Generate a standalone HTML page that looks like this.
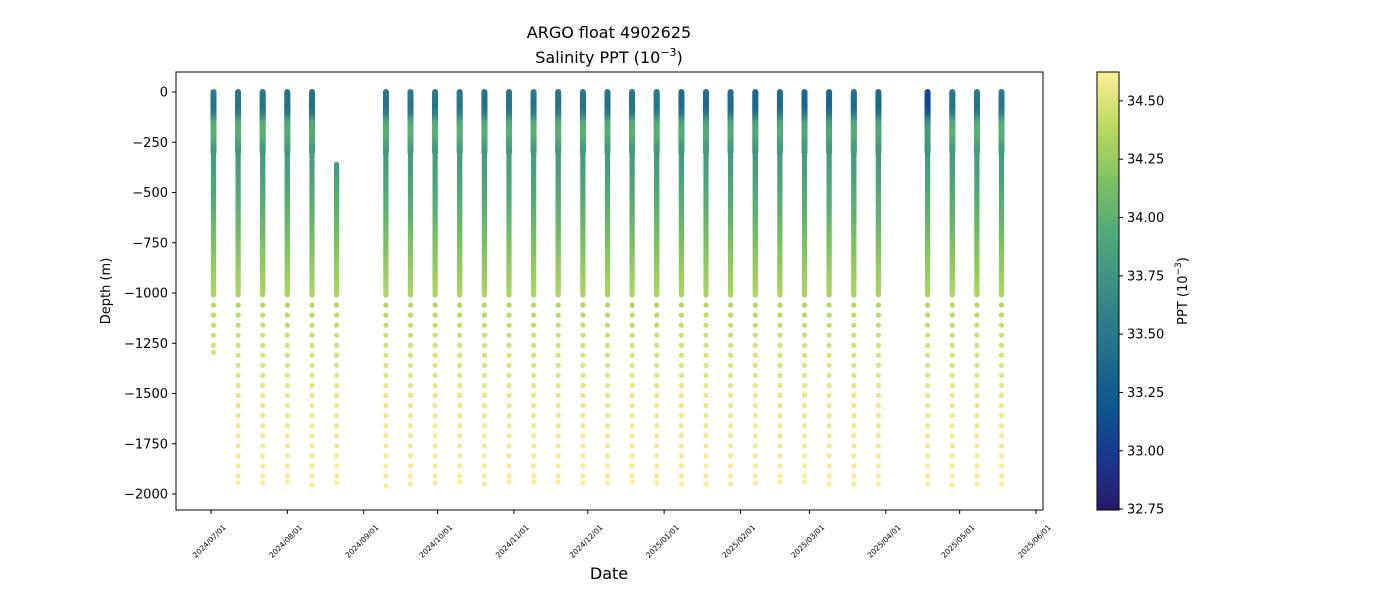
<!DOCTYPE html>
<html><head><meta charset="utf-8"><style>
html,body{margin:0;padding:0;background:#fff;}
svg text{font-family:"DejaVu Sans","Liberation Sans",sans-serif;fill:#000;}
</style></head><body>
<svg id="chart" width="1400" height="600" viewBox="0 0 1400 600" xmlns="http://www.w3.org/2000/svg">
<defs>
<linearGradient id="cbgrad" x1="0" y1="1" x2="0" y2="0">
<stop offset="0" stop-color="#2a186c"/>
<stop offset="0.125" stop-color="#19398f"/>
<stop offset="0.25" stop-color="#0e5990"/>
<stop offset="0.375" stop-color="#23728a"/>
<stop offset="0.5" stop-color="#398c85"/>
<stop offset="0.625" stop-color="#4fa87a"/>
<stop offset="0.75" stop-color="#7dc262"/>
<stop offset="0.875" stop-color="#bcd95f"/>
<stop offset="1" stop-color="#fdef9a"/>
</linearGradient>
</defs>
<text x="609" y="38" font-size="16" text-anchor="middle">ARGO float 4902625</text>
<text x="609" y="63" font-size="16" text-anchor="middle">Salinity PPT (10<tspan dy="-7" font-size="11">−3</tspan><tspan dy="7">)</tspan></text>
<g id="marks"></g>
<rect x="176" y="72" width="867" height="438" fill="none" stroke="#000" stroke-width="1"/>
<g id="xaxis"></g>
<g id="yaxis"></g>
<text x="609" y="579" font-size="16" text-anchor="middle">Date</text>
<text transform="translate(110,291) rotate(-90)" font-size="13" text-anchor="middle">Depth (m)</text>
<rect x="1097" y="72" width="22" height="438" fill="url(#cbgrad)" stroke="#000" stroke-width="1"/>
<g id="cbaxis"></g>
<text transform="translate(1187,291) rotate(-90)" font-size="13" text-anchor="middle">PPT (10<tspan dy="-6" font-size="9">−3</tspan><tspan dy="6">)</tspan></text>
</svg>
<script>
const profileDates = ["2024-07-02","2024-07-12","2024-07-22","2024-08-01","2024-08-11","2024-08-21",
"2024-09-10","2024-09-20","2024-09-30","2024-10-10","2024-10-20","2024-10-30","2024-11-09","2024-11-19","2024-11-29","2024-12-09","2024-12-19","2024-12-29","2025-01-08","2025-01-18","2025-01-28","2025-02-07","2025-02-17","2025-02-27","2025-03-09","2025-03-19","2025-03-29",
"2025-04-18","2025-04-28","2025-05-08","2025-05-18"];
const profileTop = [0,0,0,0,0,360,0,0,0,0,0,0,0,0,0,0,0,0,0,0,0,0,0,0,0,0,0,0,0,0,0];
const profileBottom = [1295,1945,1945,1940,1955,1945,1975,1950,1945,1940,1950,1940,1940,1940,1945,1945,1940,1945,1950,1950,1950,1945,1940,1940,1950,1950,1950,1950,1955,1950,1950];
const surfaceAnomaly = [0,0,0,-0.05,-0.05,0,0,0,0,0,-0.05,0,0,0,0,-0.05,0,0,-0.1,-0.1,-0.1,-0.15,-0.1,-0.15,-0.15,-0.1,-0.15,-0.45,0,0,0];
const baseDepth = [0,40,80,120,160,220,300,400,600,800,1000,1200,1500,2000];
const baseSal = [33.55,33.5,33.45,33.6,33.95,34.0,33.8,33.85,34.0,34.18,34.33,34.45,34.55,34.62];
const yTicks = [0,-250,-500,-750,-1000,-1250,-1500,-1750,-2000];
const xTicks = ["2024/07/01","2024/08/01","2024/09/01","2024/10/01","2024/11/01","2024/12/01","2025/01/01","2025/02/01","2025/03/01","2025/04/01","2025/05/01","2025/06/01"];
const cbTicks = [32.75,33.00,33.25,33.50,33.75,34.00,34.25,34.50];

const NS="http://www.w3.org/2000/svg";
const t0 = Date.UTC(2024,6,1);
function xScale(dstr){const p=dstr.split(/[-\/]/).map(Number);const d=(Date.UTC(p[0],p[1]-1,p[2])-t0)/86400000;return 211+d*2.4627;}
function yScale(v){return 92+(-v)*0.201;}
const vmin=32.746,vmax=34.624;
function cbY(v){return 510-(v-vmin)/(vmax-vmin)*438;}
const stops=[[0,[42,24,108]],[0.125,[25,57,143]],[0.25,[14,89,144]],[0.375,[35,114,138]],[0.5,[57,140,133]],[0.625,[79,168,122]],[0.75,[125,194,98]],[0.875,[188,217,95]],[1,[253,239,154]]];
function cmap(v){let f=(v-vmin)/(vmax-vmin);f=Math.max(0,Math.min(1,f));
for(let i=1;i<stops.length;i++){if(f<=stops[i][0]){const a=stops[i-1],b=stops[i];const u=(f-a[0])/(b[0]-a[0]);
return "rgb("+a[1].map((c,k)=>Math.round(c+(b[1][k]-c)*u)).join(",")+")";}}return "rgb(253,239,154)";}
function salAt(depth,anom){let s=baseSal[baseSal.length-1];
for(let i=1;i<baseDepth.length;i++){if(depth<=baseDepth[i]){const u=(depth-baseDepth[i-1])/(baseDepth[i]-baseDepth[i-1]);s=baseSal[i-1]+(baseSal[i]-baseSal[i-1])*u;break;}}
const w=Math.max(0,1-depth/350);return s+anom*w;}

const marks=document.getElementById('marks');
profileDates.forEach((d,i)=>{
 const x=xScale(d);
 const g=document.createElementNS(NS,'g');
 
 
 const depths=[];
 for(let z=profileTop[i];z<=Math.min(1000,profileBottom[i]);z+=4)depths.push(z);
 for(let z=1010;z<=profileBottom[i];z+=50)depths.push(z);
 if(profileBottom[i]>1000 && depths[depths.length-1]<profileBottom[i]-15)depths.push(profileBottom[i]);
 depths.forEach(z=>{
  const c=document.createElementNS(NS,'circle');
  c.setAttribute('cx',x.toFixed(1));c.setAttribute('cy',yScale(-z).toFixed(1));
  c.setAttribute('r',z<=300?3:2.6);
  c.setAttribute('fill',cmap(salAt(z,surfaceAnomaly[i])));
  g.appendChild(c);
 });
 marks.appendChild(g);
});

const ya=document.getElementById('yaxis');
yTicks.forEach(v=>{
 const y=yScale(v);
 const l=document.createElementNS(NS,'line');
 l.setAttribute('x1',172);l.setAttribute('x2',176);l.setAttribute('y1',y);l.setAttribute('y2',y);l.setAttribute('stroke','#000');
 ya.appendChild(l);
 const t=document.createElementNS(NS,'text');
 
 
 t.setAttribute('x',168);t.setAttribute('y',y+4.5);t.setAttribute('font-size','13');t.setAttribute('text-anchor','end');
 t.textContent=(v<0?'−':'')+Math.abs(v);
 ya.appendChild(t);
});
const xa=document.getElementById('xaxis');
xTicks.forEach(s=>{
 const x=xScale(s);
 const l=document.createElementNS(NS,'line');
 l.setAttribute('x1',x);l.setAttribute('x2',x);l.setAttribute('y1',510);l.setAttribute('y2',514);l.setAttribute('stroke','#000');
 xa.appendChild(l);
 const t=document.createElementNS(NS,'text');
 
 
 t.setAttribute('transform','translate('+(x-2)+',541) rotate(-45)');
 t.setAttribute('font-size','7.5');t.setAttribute('text-anchor','middle');t.setAttribute('dy','3');
 t.textContent=s;
 xa.appendChild(t);
});
const ca=document.getElementById('cbaxis');
cbTicks.forEach(v=>{
 const y=cbY(v);
 const l=document.createElementNS(NS,'line');
 l.setAttribute('x1',1119);l.setAttribute('x2',1123);l.setAttribute('y1',y);l.setAttribute('y2',y);l.setAttribute('stroke','#000');
 ca.appendChild(l);
 const t=document.createElementNS(NS,'text');
 
 
 t.setAttribute('x',1127);t.setAttribute('y',y+4.5);t.setAttribute('font-size','13');
 t.textContent=v.toFixed(2);
 ca.appendChild(t);
});
</script>
</body></html>
